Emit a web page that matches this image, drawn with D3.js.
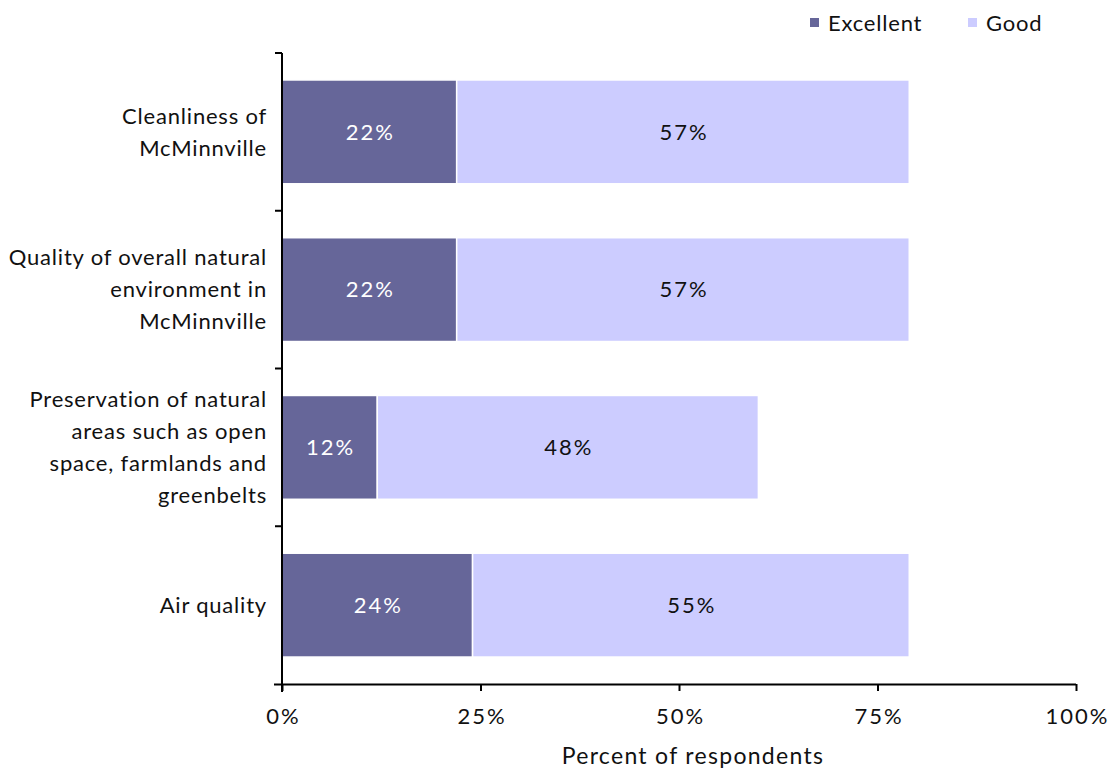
<!DOCTYPE html>
<html>
<head>
<meta charset="utf-8">
<script src="https://cdn.jsdelivr.net/npm/d3@7"></script>
<style>
  html, body { margin: 0; padding: 0; background: #fff; }
  svg { display: block; font-family: Lato, "Open Sans", sans-serif; }
</style>
</head>
<body>
<svg id="chart" width="1111" height="769"></svg>
<script>
// Ratings of the natural environment, share of respondents
const categories = [
  ["Cleanliness of", "McMinnville"],
  ["Quality of overall natural", "environment in", "McMinnville"],
  ["Preservation of natural", "areas such as open", "space, farmlands and", "greenbelts"],
  ["Air quality"]
];
const seriesNames = ["Excellent", "Good"];
const excellent = [22, 22, 12, 24];
const good = [57, 57, 48, 55];
const xTicks = [0, 25, 50, 75, 100];
const colors = ["#666699", "#CCCCFF"];
const labelColors = ["#ffffff", "#111111"];

const svg = d3.select("#chart");
const plotLeft = 282, plotRight = 1076, plotTop = 53, plotBottom = 684;
const textSize = "22px", textSpacing = "0.8px", numSpacing = "2px";

const x = d3.scaleLinear().domain([0, 100]).range([plotLeft, plotRight]);
const y = d3.scaleBand().domain(d3.range(categories.length)).range([plotTop, plotBottom])
  .paddingInner(0.342).paddingOuter(0.171);
const yTicks = d3.scaleBand().domain(d3.range(categories.length)).range([plotTop, plotBottom]);

const rows = categories.map((c, i) => ({ i, values: [excellent[i], good[i]] }));
const stack = d3.stack().keys([0, 1]).value((d, k) => d.values[k]);
const layers = stack(rows);

// Stacked bars
const g = svg.append("g");
layers.forEach((layer, k) => {
  g.selectAll(null).data(layer).enter().append("rect")
    .attr("x", d => x(d[0]))
    .attr("y", d => y(d.data.i))
    .attr("width", d => x(d[1]) - x(d[0]))
    .attr("height", y.bandwidth())
    .attr("fill", colors[k])
    .attr("stroke", "#ffffff")
    .attr("stroke-width", 1.5);
  g.selectAll(null).data(layer).enter().append("text")
    .attr("x", d => (x(d[0]) + x(d[1])) / 2 + 1)
    .attr("y", d => y(d.data.i) + y.bandwidth() / 2)
    .attr("dy", "0.35em")
    .attr("text-anchor", "middle")
    .attr("fill", labelColors[k])
    .style("font-size", textSize)
    .style("letter-spacing", numSpacing)
    .text(d => d.data.values[k] + "%");
});

// X axis
const xAxis = d3.axisBottom(x).tickValues(xTicks).tickFormat(d => d + "%")
  .tickSize(7).tickSizeOuter(0).tickPadding(17);
const gx = svg.append("g").attr("transform", `translate(0,${plotBottom})`).call(xAxis);
gx.select(".domain").attr("stroke", "#000").attr("stroke-width", 2)
  .attr("d", `M${plotLeft - 8},0.5H${plotRight}`);
gx.selectAll(".tick line").attr("stroke", "#000").attr("stroke-width", 2);
gx.selectAll(".tick text").attr("fill", "#111").attr("dx", "1px").style("font-size", textSize)
  .style("font-family", "Lato, 'Open Sans', sans-serif").style("letter-spacing", numSpacing);

// Y axis line with ticks at band boundaries
const gy = svg.append("g");
gy.append("line").attr("x1", plotLeft).attr("x2", plotLeft).attr("y1", plotTop).attr("y2", plotBottom + 8)
  .attr("stroke", "#000").attr("stroke-width", 2);
const boundaries = d3.range(categories.length).map(i => yTicks(i));
gy.selectAll(null).data(boundaries).enter().append("line")
  .attr("x1", plotLeft - 7).attr("x2", plotLeft)
  .attr("y1", d => d).attr("y2", d => d)
  .attr("stroke", "#000").attr("stroke-width", 2);

// Category labels
const lineH = 32;
categories.forEach((lines, i) => {
  const cy = y(i) + y.bandwidth() / 2;
  const t = svg.append("text")
    .attr("text-anchor", "end")
    .attr("fill", "#111")
    .style("font-size", textSize)
    .style("letter-spacing", textSpacing);
  lines.forEach((ln, j) => {
    t.append("tspan")
      .attr("x", 267)
      .attr("y", cy + (j - (lines.length - 1) / 2) * lineH)
      .attr("dy", "0.35em")
      .text(ln);
  });
});

// Axis title
svg.append("text")
  .attr("x", (plotLeft + plotRight) / 2 + 14).attr("y", 756).attr("dy", "0.35em")
  .attr("text-anchor", "middle").attr("fill", "#111")
  .style("font-size", "23px")
  .style("letter-spacing", "1.3px")
  .text("Percent of respondents");

// Legend
const legendX = [810, 968];
const lg = svg.append("g");
seriesNames.forEach((name, k) => {
  lg.append("rect").attr("x", legendX[k]).attr("y", 18).attr("width", 9).attr("height", 9)
    .attr("fill", colors[k]);
  lg.append("text").attr("x", legendX[k] + 18).attr("y", 23).attr("dy", "0.35em")
    .attr("fill", "#111").style("font-size", textSize).style("letter-spacing", textSpacing)
    .text(name);
});
</script>
</body>
</html>
